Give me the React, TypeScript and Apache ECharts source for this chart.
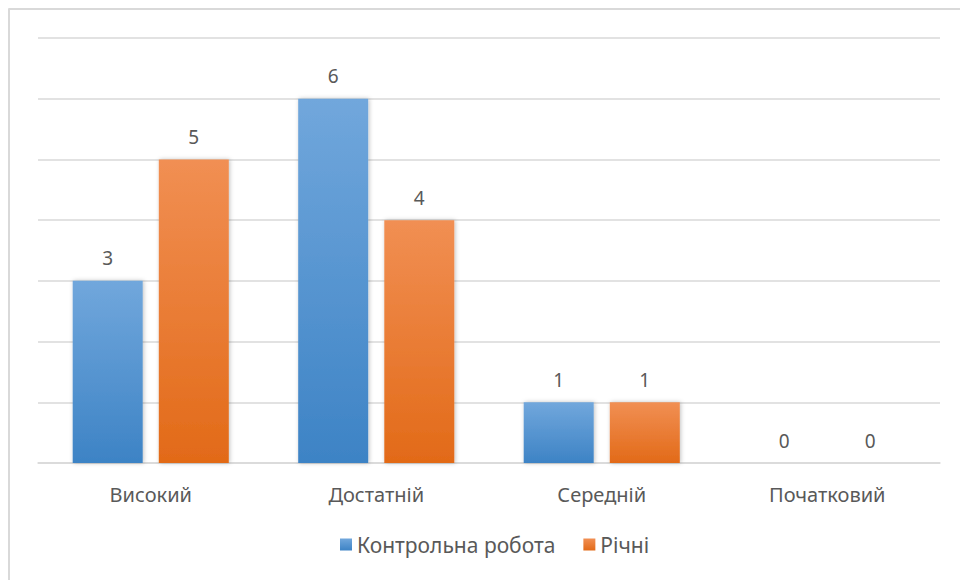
import React, { useEffect, useRef } from "react";
import * as echarts from "echarts";

const categories = ["Високий", "Достатній", "Середній", "Початковий"];
const seriesNames = ["Контрольна робота", "Річні"];
const controlWork = [3, 6, 1, 0];
const annual = [5, 4, 1, 0];

const FONT = "'Noto Sans', sans-serif";
const TEXT = "#595959";

export default function App() {
  const ref = useRef<HTMLDivElement>(null);
  useEffect(() => {
    if (!ref.current) return;
    const chart = echarts.init(ref.current, null, { renderer: "svg" });
    const grad = (top: string, bottom: string) =>
      new echarts.graphic.LinearGradient(0, 0, 0, 1, [
        { offset: 0, color: top },
        { offset: 1, color: bottom },
      ]);
    const label = {
      show: true,
      position: "top",
      distance: 13,
      color: TEXT,
      fontSize: 19,
      fontFamily: FONT,
    };
    const shadow = {
      shadowBlur: 4,
      shadowColor: "rgba(0,0,0,0.25)",
      shadowOffsetX: 1,
      shadowOffsetY: 0,
    };
    chart.setOption({
      animation: false,
      backgroundColor: "#ffffff",
      textStyle: { fontFamily: FONT },
      graphic: [
        {
          type: "line",
          shape: { x1: 8.5, y1: 9, x2: 960, y2: 9 },
          style: { stroke: "#d9d9d9", lineWidth: 2 },
        },
        {
          type: "line",
          shape: { x1: 9, y1: 8.5, x2: 9, y2: 580 },
          style: { stroke: "#d9d9d9", lineWidth: 2 },
        },
      ],
      grid: { left: 38, right: 20, top: 38, bottom: 117, containLabel: false },
      legend: {
        data: seriesNames,
        bottom: 20,
        left: 335,
        icon: "rect",
        itemWidth: 12,
        itemHeight: 12,
        itemGap: 28,
        itemStyle: { shadowBlur: 0 },
        textStyle: { color: TEXT, fontSize: 21, fontFamily: FONT },
      },
      xAxis: {
        type: "category",
        data: categories,
        axisLine: { show: true, lineStyle: { color: "#d9d9d9", width: 1.5 } },
        axisTick: { show: false },
        axisLabel: { color: TEXT, fontSize: 20, fontFamily: FONT, margin: 21 },
      },
      yAxis: {
        type: "value",
        min: 0,
        max: 7,
        interval: 1,
        axisLabel: { show: false },
        axisLine: { show: false },
        axisTick: { show: false },
        splitLine: { lineStyle: { color: "#d9d9d9", width: 1.5 } },
      },
      series: [
        {
          name: seriesNames[0],
          type: "bar",
          data: controlWork,
          barWidth: 70,
          barGap: "23%",
          itemStyle: { color: grad("#71a7dc", "#3d83c5"), ...shadow },
          label,
        },
        {
          name: seriesNames[1],
          type: "bar",
          data: annual,
          barWidth: 70,
          itemStyle: { color: grad("#f18f53", "#e26a18"), ...shadow },
          label,
        },
      ],
    });
    return () => chart.dispose();
  }, []);
  return (
    <div
      ref={ref}
      style={{ position: "fixed", left: 0, top: 0, width: 960, height: 580 }}
    />
  );
}
